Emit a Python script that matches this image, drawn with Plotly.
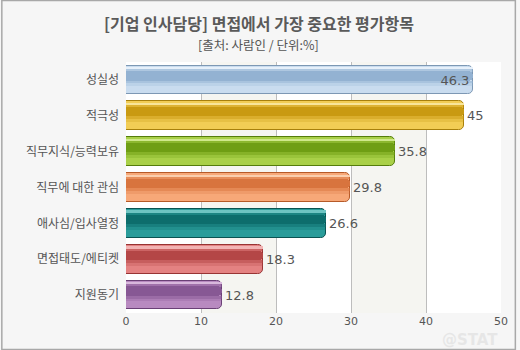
import plotly.graph_objects as go

# Survey: most important evaluation items in job interviews (HR managers)
categories = ["성실성", "적극성", "직무지식/능력보유", "직무에 대한 관심",
              "애사심/입사열정", "면접태도/에티켓", "지원동기"]
values = [46.3, 45, 35.8, 29.8, 26.6, 18.3, 12.8]
x_ticks = [0, 10, 20, 30, 40, 50]

# per-bar palette: (light bottom, dark middle band, highlight, outline)
palette = [
    ("#c9dcef", "#93b2d2", "#e6f0fa", "#7d98b4"),
    ("#f2cd55", "#c99a12", "#f8e59a", "#a8800c"),
    ("#a9d048", "#6f9e14", "#cfe88a", "#557d0c"),
    ("#f7a878", "#d8743e", "#fbcfae", "#b65a28"),
    ("#2a9c9a", "#0d6d6c", "#6ec4c2", "#0a5352"),
    ("#e48282", "#b44646", "#f2b4b4", "#983434"),
    ("#b88ac0", "#875894", "#d8b8dc", "#6a4076"),
]
light = [p[0] for p in palette]
dark = [p[1] for p in palette]
high = [p[2] for p in palette]
edge = [p[3] for p in palette]

W, H = 520, 350
ML, MR, MT, MB = 126, 15, 62, 37
BW = 0.80

fig = go.Figure()


def band(start, size, colors, opacity=1.0, line=None, text=None):
    """One horizontal layer of the glossy bar, positioned within the bar thickness."""
    kw = text if text is not None else {}
    fig.add_trace(go.Bar(
        y=categories, x=values, orientation="h",
        width=BW * size, offset=-BW / 2 + BW * start,
        marker=dict(color=colors, opacity=opacity,
                    line=line if line else dict(width=0)),
        hoverinfo="skip", showlegend=False, **kw,
    ))


# base bar body (lighter lower part) with outline
band(0.0, 1.0, light, line=dict(color=edge, width=1))
# shading: darker core with soft edges above and below
band(0.12, 0.10, dark, opacity=0.5)
band(0.20, 0.32, dark)
band(0.52, 0.10, dark, opacity=0.6)
band(0.62, 0.10, dark, opacity=0.25)
# glossy highlight strip near the top edge
band(0.05, 0.08, high)

# value labels: the longest bar carries its label inside
positions = ["inside" if v == max(values) else "outside" for v in values]
label_font = dict(family="DejaVu Sans", size=13, color="#555555")
band(0.0, 1.0, "rgba(0,0,0,0)", text=dict(
    text=[f"{v:g}" for v in values], textposition=positions,
    insidetextanchor="end", textfont=label_font,
    outsidetextfont=label_font, insidetextfont=label_font, cliponaxis=False,
))

# alternating light bands behind the bars
shapes = []
for a, b in [(10, 20), (30, 40)]:
    shapes.append(dict(type="rect", xref="x", yref="paper", x0=a, x1=b, y0=0, y1=1,
                       fillcolor="#f5f5f1", line=dict(width=0), layer="below"))

# outer frame around the whole image
pw, ph = W - ML - MR, H - MT - MB
shapes.append(dict(type="rect", xref="paper", yref="paper",
                   x0=(0.5 - ML) / pw, x1=(W - 0.5 - ML) / pw,
                   y0=-(MB - 0.5) / ph, y1=1 + (MT - 0.5) / ph,
                   line=dict(color="#a8a8a8", width=1.5), fillcolor="rgba(0,0,0,0)",
                   layer="above"))

annotations = [
    dict(text="<b>[기업 인사담당] 면접에서 가장 중요한 평가항목</b>",
         xref="paper", yref="paper", x=(260 - ML) / pw, y=1 + (MT - 23) / ph,
         xanchor="center", yanchor="middle", showarrow=False,
         font=dict(family="Noto Sans CJK KR", size=16, color="#5a5a5a")),
    dict(text="[출처: 사람인 / 단위:%]",
         xref="paper", yref="paper", x=(260 - ML) / pw, y=1 + (MT - 44) / ph,
         xanchor="center", yanchor="middle", showarrow=False,
         font=dict(family="Noto Sans CJK KR", size=12.5, color="#555555")),
    dict(text="<b>@STAT</b>",
         xref="paper", yref="paper", x=(474 - ML) / pw, y=-(340 - MT - ph) / ph,
         xanchor="center", yanchor="middle", showarrow=False,
         font=dict(family="DejaVu Sans", size=15, color="rgba(228,228,228,0.85)")),
]

fig.update_layout(
    width=W, height=H,
    margin=dict(l=ML, r=MR, t=MT, b=MB),
    paper_bgcolor="#f6f6f6", plot_bgcolor="#ffffff",
    barmode="overlay", barcornerradius=5,
    bargap=0, showlegend=False,
    shapes=shapes, annotations=annotations,
    xaxis=dict(range=[0, 50], tickvals=x_ticks, ticktext=[str(t) for t in x_ticks],
               showgrid=True, gridcolor="#bdbdbd", gridwidth=1,
               zeroline=False, showline=False, ticks="", ticklen=0,
               tickfont=dict(family="DejaVu Sans", size=11, color="#555555")),
    yaxis=dict(categoryorder="array", categoryarray=categories, autorange="reversed",
               showgrid=False, zeroline=False, showline=False, ticks="",
               ticklabelstandoff=6,
               tickfont=dict(family="Noto Sans CJK KR", size=12, color="#555555")),
)

fig.write_html("out.html")
